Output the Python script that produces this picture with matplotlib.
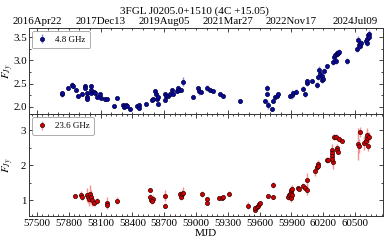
import datetime
import numpy as np
import matplotlib
matplotlib.use("Agg")
import matplotlib.pyplot as plt
from matplotlib.ticker import FixedLocator, MultipleLocator, FuncFormatter

plt.rcParams['font.family'] = ['Liberation Serif', 'DejaVu Serif']
plt.rcParams['mathtext.fontset'] = 'stix'

title = "3FGL J0205.0+1510 (4C +15.05)"
label_low = "4.8 GHz"
label_high = "23.6 GHz"

mjd_low = [57733, 57733, 57795, 57827, 57837, 57868, 57890, 57922, 57953, 57953,
           57975, 57975, 57975, 58007, 58007, 58007, 58038, 58047, 58063, 58094,
           58101, 58141, 58163, 58226, 58252, 58314, 58324, 58340, 58346, 58377,
           58440, 58465, 58465, 58525, 58582, 58597, 58613, 58623, 58629, 58644,
           58644, 58708, 58708, 58717, 58736, 58755, 58771, 58780, 58824, 58833,
           58842, 58856, 58874, 58975, 59022, 59031, 59044, 59107, 59132, 59158,
           59226, 59258, 59415, 59651, 59673, 59673, 59682, 59714, 59729, 59745,
           59761, 59776, 59887, 59903, 59918, 59943, 60007, 60028, 60044, 60050,
           60091, 60139, 60154, 60163, 60170, 60186, 60186, 60195, 60208, 60239,
           60295, 60302, 60311, 60321, 60327, 60333, 60342, 60352, 60422, 60516,
           60531, 60538, 60547, 60554, 60604, 60610, 60616, 60626, 60632, 60635]
flux_low = [2.27, 2.31, 2.41, 2.47, 2.44, 2.37, 2.23, 2.27, 2.44, 2.41,
            2.31, 2.22, 2.17, 2.44, 2.37, 2.31, 2.32, 2.31, 2.21, 2.27,
            2.19, 2.16, 2.17, 2.01, 2.19, 2.04, 1.99, 2.04, 2.01, 1.96,
            2.01, 2.04, 1.97, 2.07, 2.14, 2.16, 2.34, 2.27, 2.17, 2.22,
            2.07, 2.14, 2.27, 2.24, 2.24, 2.27, 2.36, 2.27, 2.34, 2.41,
            2.37, 2.36, 2.54, 2.21, 2.41, 2.34, 2.32, 2.41, 2.37, 2.35,
            2.27, 2.24, 2.12, 2.12, 2.41, 2.27, 2.04, 1.96, 2.12, 2.21,
            2.24, 2.27, 2.24, 2.26, 2.31, 2.33, 2.39, 2.27, 2.51, 2.55,
            2.56, 2.47, 2.64, 2.79, 2.71, 2.67, 2.57, 2.61, 2.77, 2.87,
            2.97, 3.07, 3.11, 2.99, 3.14, 3.17, 3.16, 3.19, 2.99, 3.25,
            3.44, 3.34, 3.31, 3.37, 3.41, 3.47, 3.37, 3.54, 3.57, 3.51]
err_low = [0.05, 0.04, 0.05, 0.06, 0.04, 0.04, 0.03, 0.03, 0.06, 0.04,
           0.04, 0.04, 0.04, 0.06, 0.04, 0.04, 0.04, 0.03, 0.03, 0.03,
           0.03, 0.04, 0.03, 0.03, 0.03, 0.03, 0.03, 0.03, 0.03, 0.03,
           0.03, 0.04, 0.03, 0.03, 0.03, 0.03, 0.05, 0.04, 0.04, 0.04,
           0.04, 0.04, 0.04, 0.04, 0.04, 0.04, 0.04, 0.04, 0.05, 0.05,
           0.04, 0.04, 0.10, 0.04, 0.05, 0.08, 0.04, 0.06, 0.04, 0.04,
           0.04, 0.04, 0.04, 0.04, 0.06, 0.04, 0.08, 0.04, 0.04, 0.05,
           0.05, 0.05, 0.04, 0.10, 0.04, 0.05, 0.05, 0.05, 0.06, 0.06,
           0.05, 0.06, 0.06, 0.08, 0.06, 0.06, 0.06, 0.06, 0.06, 0.06,
           0.06, 0.06, 0.06, 0.06, 0.06, 0.06, 0.06, 0.06, 0.06, 0.06,
           0.08, 0.06, 0.06, 0.06, 0.06, 0.08, 0.06, 0.08, 0.08, 0.06]

mjd_high = [57858, 57915, 57922, 57975, 57984, 57993, 58000, 58007, 58016, 58041,
            58069, 58163, 58163, 58252, 58566, 58566, 58573, 58592, 58582, 58708,
            58708, 58849, 58856, 58865, 58880, 59054, 59101, 59107, 59220, 59242,
            59258, 59311, 59493, 59557, 59557, 59573, 59582, 59594, 59604, 59682,
            59729, 59729, 59871, 59880, 59887, 59893, 59899, 59906, 59896, 59908,
            59965, 59974, 60012, 60028, 60044, 60044, 60123, 60139, 60148, 60154,
            60239, 60248, 60280, 60286, 60280, 60290, 60286, 60302, 60318, 60327,
            60333, 60342, 60352, 60374, 60531, 60540, 60547, 60585, 60601, 60610,
            60616, 60626, 60632]
flux_high = [1.13, 1.15, 1.10, 1.15, 1.08, 1.03, 1.18, 1.08, 1.00, 0.93,
             0.98, 0.93, 0.86, 0.98, 1.30, 1.08, 1.01, 1.03, 0.98, 1.13,
             0.85, 1.18, 1.10, 1.18, 1.21, 1.18, 1.03, 0.93, 1.05, 1.06,
             1.08, 1.19, 0.85, 0.73, 0.78, 0.81, 0.85, 0.88, 0.91, 1.13,
             1.43, 1.08, 1.10, 1.15, 1.18, 1.23, 1.28, 1.33, 1.06, 1.15,
             1.35, 1.31, 1.42, 1.35, 1.58, 1.30, 1.84, 1.94, 2.04, 1.99,
             2.14, 2.16, 2.44, 2.36, 2.26, 2.09, 2.19, 2.80, 2.80, 2.49,
             2.44, 2.39, 2.75, 2.70, 2.60, 2.55, 2.95, 2.63, 2.70, 2.77,
             2.85, 2.55, 2.80]
err_high = [0.05, 0.10, 0.08, 0.20, 0.15, 0.20, 0.25, 0.20, 0.15, 0.08,
            0.08, 0.15, 0.10, 0.10, 0.05, 0.10, 0.10, 0.12, 0.08, 0.15,
            0.08, 0.08, 0.08, 0.10, 0.18, 0.08, 0.05, 0.05, 0.05, 0.05,
            0.05, 0.08, 0.10, 0.05, 0.05, 0.05, 0.05, 0.05, 0.05, 0.05,
            0.08, 0.05, 0.10, 0.10, 0.12, 0.15, 0.12, 0.10, 0.10, 0.12,
            0.05, 0.05, 0.08, 0.05, 0.20, 0.15, 0.15, 0.10, 0.12, 0.10,
            0.08, 0.08, 0.12, 0.25, 0.20, 0.20, 0.15, 0.08, 0.08, 0.10,
            0.08, 0.08, 0.08, 0.05, 0.45, 0.20, 0.15, 0.20, 0.15, 0.20,
            0.20, 0.15, 0.15]

top_ticks_mjd = [57500, 58100, 58700, 59300, 59900, 60500]
bottom_ticks_mjd = [57500, 57800, 58100, 58400, 58700, 59000, 59300, 59600,
                    59900, 60200, 60500]

fig = plt.figure(figsize=(3.89, 2.43), dpi=100)
ax1 = fig.add_axes([0.0746, 0.5295, 0.9104, 0.3555])
ax2 = fig.add_axes([0.0746, 0.111, 0.9104, 0.4185])

xlim = (57425, 60765)

def mjd_to_date(v, pos=None):
    d = datetime.date(1858, 11, 17) + datetime.timedelta(days=int(round(v)))
    return d.strftime("%Y%b%d")

ax1.errorbar(mjd_low, flux_low, yerr=err_low, fmt='o', ms=3.0, mfc='#0a0a9a',
             mec='#000040', mew=0.5, ecolor='#8c8cf0', elinewidth=1.0,
             capsize=0, label=label_low)
ax2.errorbar(mjd_high, flux_high, yerr=err_high, fmt='o', ms=3.0, mfc='#d40000',
             mec='#300000', mew=0.5, ecolor='#f59090', elinewidth=1.0,
             capsize=0, label=label_high)

ax1.set_xlim(*xlim)
ax2.set_xlim(*xlim)
ax1.set_ylim(1.84, 3.70)
ax2.set_ylim(0.55, 3.45)

ax1.xaxis.set_major_locator(FixedLocator(top_ticks_mjd))
ax1.xaxis.set_minor_locator(MultipleLocator(100))
ax1.xaxis.set_major_formatter(FuncFormatter(mjd_to_date))
ax1.yaxis.set_major_locator(MultipleLocator(0.5))
ax1.yaxis.set_minor_locator(MultipleLocator(0.25))
ax1.yaxis.set_major_formatter(FuncFormatter(lambda v, p: f"{v:.1f}"))

ax2.xaxis.set_major_locator(FixedLocator(bottom_ticks_mjd))
ax2.xaxis.set_minor_locator(MultipleLocator(50))
ax2.yaxis.set_major_locator(MultipleLocator(1))
ax2.yaxis.set_minor_locator(MultipleLocator(0.5))

for ax in (ax1, ax2):
    ax.tick_params(which='both', direction='in', left=True, right=True,
                   top=True, bottom=True, labelsize=7.8, width=0.6,
                   color='#222222', pad=2)
    ax.tick_params(which='major', length=3.2)
    ax.tick_params(which='minor', length=1.6)
    for s in ax.spines.values():
        s.set_linewidth(0.7)
        s.set_color('#333333')
    ax.set_ylabel(r"$F_{Jy}$", fontsize=8, labelpad=3)
    ax.yaxis.set_label_coords(-0.038, 0.5)

ax1.tick_params(labeltop=True, labelbottom=False, pad=1.5)
ax2.tick_params(labeltop=False, labelbottom=True)
ax2.set_xlabel("MJD", fontsize=8, labelpad=1)

leg_kw = dict(loc='upper left', fontsize=6.5, frameon=True, fancybox=True,
              edgecolor='#888888', handlelength=1.2, borderpad=0.5,
              handletextpad=0.8, borderaxespad=0.35)
l1 = ax1.legend(**leg_kw)
l2 = ax2.legend(**leg_kw)
for l in (l1, l2):
    l.get_frame().set_linewidth(0.6)

fig.text(0.5, 0.975, title, ha='center', va='top', fontsize=8)

fig.savefig("out.png", dpi=100)
